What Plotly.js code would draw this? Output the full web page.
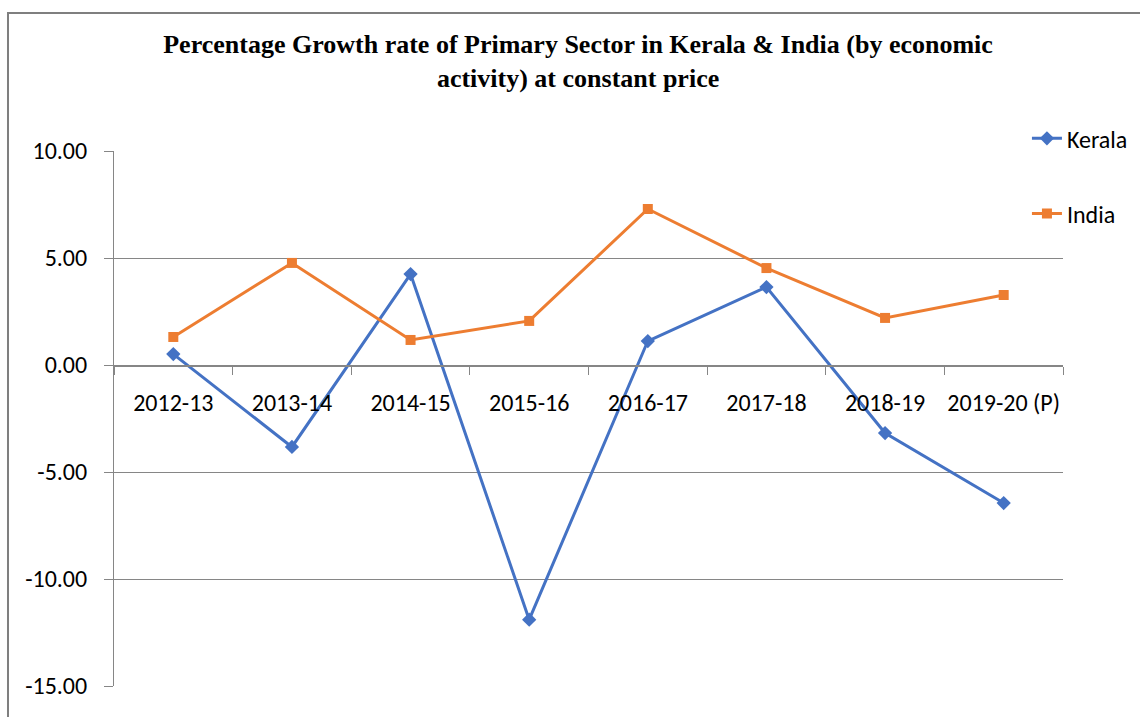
<!DOCTYPE html>
<html>
<head>
<meta charset="utf-8">
<script src="https://cdn.plot.ly/plotly-3.0.1.min.js"></script>
<style>
  html, body { margin: 0; padding: 0; background: #fff; }
  #chart { width: 1140px; height: 717px; }
</style>
</head>
<body>
<div id="chart"></div>
<script>
// Growth rates
var years = ["2012-13", "2013-14", "2014-15", "2015-16", "2016-17", "2017-18", "2018-19", "2019-20 (P)"];
var kerala = [0.51, -3.83, 4.25, -11.90, 1.12, 3.64, -3.18, -6.45];
var india = [1.31, 4.77, 1.17, 2.06, 7.29, 4.53, 2.20, 3.27];
var yTicks = [-15, -10, -5, 0, 5, 10];

var labelFont = "Carlito, Calibri, Lato, sans-serif";
var titleFont = "Liberation Serif, Times New Roman, serif";

var data = [
  {
    x: years,
    y: kerala,
    name: "Kerala",
    type: "scatter",
    mode: "lines+markers",
    legendgroup: "k",
    line: {color: "#4472C4", width: 3},
    marker: {symbol: "diamond", size: 11, color: "#4472C4"}
  },
  {
    x: years,
    y: india,
    name: "India",
    type: "scatter",
    mode: "lines+markers",
    legendgroup: "i",
    line: {color: "#ED7D31", width: 3},
    marker: {symbol: "square", size: 10, color: "#ED7D31"}
  }
];

var layout = {
  width: 1140,
  height: 717,
  paper_bgcolor: "#fff",
  plot_bgcolor: "#fff",
  margin: {l: 114, r: 77, t: 151, b: 31, autoexpand: false},
  font: {family: labelFont, size: 24, color: "#000"},
  title: {
    text: "<b>Percentage Growth rate of Primary Sector in Kerala &amp; India (by economic<br>activity) at constant price</b>",
    font: {family: titleFont, size: 26, color: "#000", weight: "bold"},
    x: 0.489,
    xref: "paper",
    xanchor: "center",
    y: 0.926,
    yref: "container",
    yanchor: "middle"
  },
  showlegend: true,
  legend: {
    x: 0.962,
    xanchor: "left",
    y: 1.065,
    yanchor: "top",
    traceorder: "grouped",
    tracegroupgap: 41,
    font: {family: labelFont, size: 24, color: "#000"},
    bgcolor: "rgba(0,0,0,0)"
  },
  xaxis: {
    type: "category",
    range: [-0.5, years.length - 0.5],
    anchor: "free",
    position: 0.6,
    showgrid: false,
    showline: true,
    linecolor: "#868686",
    linewidth: 1.5,
    ticks: "outside",
    tickson: "boundaries",
    ticklen: 8,
    tickcolor: "#868686",
    tickangle: 0,
    ticklabelstandoff: 16,
    tickfont: {family: labelFont, size: 24, color: "#000"},
    zeroline: false
  },
  yaxis: {
    range: [-15, 10],
    tickvals: yTicks,
    ticktext: yTicks.map(function(v) { return v.toFixed(2); }),
    showgrid: true,
    gridcolor: "#868686",
    gridwidth: 1,
    showline: true,
    linecolor: "#868686",
    linewidth: 1,
    ticks: "outside",
    ticklen: 9,
    tickcolor: "#868686",
    ticklabelstandoff: 12,
    zeroline: false,
    tickfont: {family: labelFont, size: 24, color: "#000"}
  },
  shapes: [
    {
      type: "rect",
      xref: "paper",
      yref: "paper",
      x0: -0.1117,
      x1: 1.09,
      y0: -0.08,
      y1: 1.258,
      line: {color: "#7f7f7f", width: 2},
      fillcolor: "rgba(0,0,0,0)",
      layer: "below"
    }
  ]
};

Plotly.newPlot("chart", data, layout, {staticPlot: true});
</script>
</body>
</html>
